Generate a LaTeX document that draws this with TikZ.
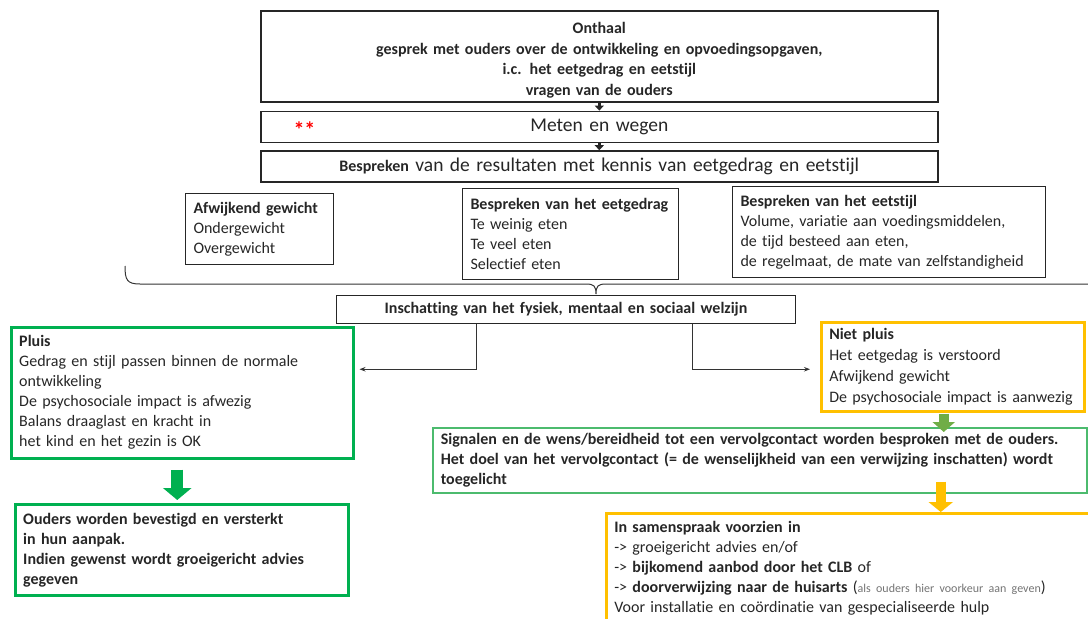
\documentclass[tikz,border=0pt]{standalone}
\usepackage{fontspec}
\setmainfont{Carlito}[Ligatures=NoCommon]
\usetikzlibrary{arrows.meta,positioning}
\definecolor{groen}{RGB}{0,176,80}
\definecolor{lichtgroen}{RGB}{76,187,110}
\definecolor{olijf}{RGB}{112,173,71}
\definecolor{oranje}{RGB}{255,192,0}

\begin{document}
\begin{tikzpicture}[x=1pt, y=-1pt,
  box/.style={draw=black!85, line width=1pt, anchor=north west, inner xsep=8pt, inner ysep=0pt, align=left, text=black!85, font=\fontsize{16}{20}\selectfont},
  topbox/.style={box, line width=1.6pt, align=center, minimum width=677pt, text width=661pt},
  pbox/.style={box, draw=groen, line width=2.5pt},
  npbox/.style={box, draw=oranje, line width=2.5pt},
  arr/.style={-{Stealth[length=6pt,width=4.5pt]}, line width=0.8pt, black!80},
  kort/.style={-{Triangle[length=5pt,width=9pt]}, line width=3pt, black!85},
  blok/.style={line width=12pt, -{Triangle[length=12pt,width=28pt]}},
]
  \useasboundingbox (0,0) rectangle (1088,619);
  \clip (0,0) rectangle (1088,619);

  % bovenste stappen
  \node[topbox, minimum height=91pt, font=\bfseries\fontsize{16}{20.7}\selectfont] (onthaal) at (260,10)
    {\rule{0pt}{19pt}Onthaal\\ gesprek met ouders over de ontwikkeling en opvoedingsopgaven,\\ i.c. het eetgedrag en eetstijl\\ vragen van de ouders};
  \node[topbox, minimum height=31pt, below=8pt of onthaal, font=\fontsize{19.5}{22}\selectfont] (meten) {Meten en wegen};
  \node[anchor=west, text=red, font=\bfseries\fontsize{22}{22}\selectfont] (sterren) at ([xshift=30pt, yshift=-3pt]meten.west) {**};
  \node[topbox, minimum height=31pt, below=7pt of meten, font=\fontsize{19.5}{22}\selectfont] (bespreken)
    {\textbf{\fontsize{16}{20}\selectfont Bespreken} van de resultaten met kennis van eetgedrag en eetstijl};

  \draw[kort] (onthaal.south) -- (meten.north);
  \draw[kort] (meten.south) -- (bespreken.north);

  % drie bespreekpunten
  \node[box, text width=132pt, minimum height=71pt] (afw) at (185,193)
    {\textbf{Afwijkend gewicht}\\ Ondergewicht\\ Overgewicht};
  \node[box, text width=200pt, minimum height=91pt] (gedrag) at (462,188)
    {\textbf{Bespreken van het eetgedrag}\\ Te weinig eten\\ Te veel eten\\ Selectief eten};
  \node[box, text width=297pt, minimum height=91pt] (stijl) at (732,186)
    {\textbf{Bespreken van het eetstijl}\\ Volume, variatie aan voedingsmiddelen,\\ de tijd besteed aan eten,\\ de regelmaat, de mate van zelfstandigheid};

  % accolade
  \draw[line width=1pt, black!80] (125,266) .. controls (125,280) and (127,284) .. (140,284) -- (586,284)
    .. controls (594,284) and (596,286) .. (596,294) .. controls (596,286) and (598,284) .. (606,284) -- (1088,284);

  \node[box, align=center, text width=443pt, minimum height=28pt, font=\bfseries\fontsize{16}{20}\selectfont] (insch) at (336,295)
    {Inschatting van het fysiek, mentaal en sociaal welzijn};

  % pluis / niet pluis
  \node[pbox, text width=326pt, minimum height=131pt] (pluis) at (10,326)
    {\textbf{Pluis}\\ Gedrag en stijl passen binnen de normale\\ ontwikkeling\\ De psychosociale impact is afwezig\\ Balans draaglast en kracht in\\ het kind en het gezin is OK};
  \node[npbox, text width=247pt, minimum height=89pt, font=\fontsize{16}{20.7}\selectfont] (niet) at (820,321)
    {\textbf{Niet pluis}\\ Het eetgedag is verstoord\\ Afwijkend gewicht\\ De psychosociale impact is aanwezig};

  \draw[arr, shorten >=5pt] ([xshift=-89.5pt]insch.south) |- ([yshift=23.5pt]pluis.east);
  \draw[arr, shorten >=10pt] ([xshift=126.5pt]insch.south) |- ([yshift=-2.5pt]niet.west);

  \node[pbox, text width=317pt, minimum height=91pt, font=\bfseries\fontsize{16}{20}\selectfont] (ouders) at (14,503)
    {Ouders worden bevestigd en versterkt\\ in hun aanpak.\\ Indien gewenst wordt groeigericht advies\\ gegeven};
  \node[box, draw=lichtgroen, line width=1.5pt, text width=638pt, minimum height=65pt, font=\bfseries\fontsize{16}{20}\selectfont] (signalen) at (432,427)
    {Signalen en de wens/bereidheid tot een vervolgcontact worden besproken met de ouders.\\ Het doel van het vervolgcontact (= de wenselijkheid van een verwijzing inschatten) wordt\\ toegelicht};
  \node[npbox, text width=474pt, minimum height=110pt] (samen) at (605,512)
    {\textbf{In samenspraak voorzien in}\\ -> groeigericht advies en/of\\ -> \textbf{bijkomend aanbod door het CLB} of\\
     -> \textbf{doorverwijzing naar de huisarts} ({\color{black!55}\fontsize{12}{20}\selectfont als ouders hier voorkeur aan geven})\\
     Voor installatie en coördinatie van gespecialiseerde hulp};

  % blokpijlen
  \draw[blok, groen, shorten <=10pt, shorten >=3pt] ([xshift=-5pt]pluis.south) -- ([xshift=-5pt]pluis.south |- ouders.north);
  \draw[blok, olijf, line width=10pt, -{Triangle[length=10pt,width=22pt]}, shorten <=1pt, shorten >=-5pt]
    ([xshift=-9pt]niet.south) -- ([xshift=-9pt]niet.south |- signalen.north);
  \draw[blok, oranje, line width=10pt, -{Triangle[length=10pt,width=24pt]}, shorten <=-12pt]
    ([xshift=181pt]signalen.south) -- ([xshift=181pt]signalen.south |- samen.north);
\end{tikzpicture}
\end{document}
